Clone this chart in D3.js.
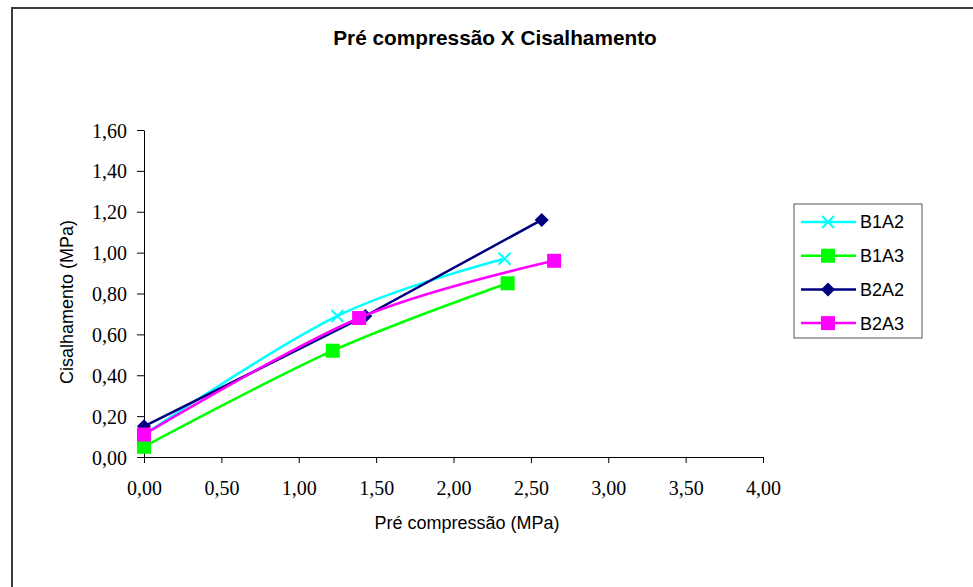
<!DOCTYPE html>
<html>
<head>
<meta charset="utf-8">
<script src="https://cdn.jsdelivr.net/npm/d3@7"></script>
<style>
  body { margin: 0; background: #fff; }
  svg { display: block; }
</style>
</head>
<body>
<svg></svg>
<script>
// dados
const seriesNames = ["B1A2", "B1A3", "B2A2", "B2A3"];
const b1a2X = [0.00, 1.25, 2.33];
const b1a2Y = [0.11, 0.69, 0.97];
const b1a3X = [0.00, 1.22, 2.35];
const b1a3Y = [0.05, 0.52, 0.85];
const b2a2X = [0.00, 1.43, 2.57];
const b2a2Y = [0.15, 0.69, 1.16];
const b2a3X = [0.00, 1.39, 2.65];
const b2a3Y = [0.11, 0.68, 0.96];
const xTicks = [0, 0.5, 1, 1.5, 2, 2.5, 3, 3.5, 4];
const yTicks = [0, 0.2, 0.4, 0.6, 0.8, 1.0, 1.2, 1.4, 1.6];

const width = 973, height = 587;
const svg = d3.select("svg").attr("width", width).attr("height", height);

// moldura externa (sai da área visível à direita e embaixo)
svg.append("rect")
    .attr("x", 12).attr("y", 8)
    .attr("width", 1000).attr("height", 700)
    .attr("fill", "#fff")
    .attr("stroke", "#3c3c3c").attr("stroke-width", 2);

const plot = {left: 144, right: 763, top: 130, bottom: 457};
const x = d3.scaleLinear().domain([0, 4]).range([plot.left, plot.right]);
const y = d3.scaleLinear().domain([0, 1.6]).range([plot.bottom, plot.top]);
const fmt = v => d3.format(".2f")(v).replace(".", ",");

// eixos
const xAxis = svg.append("g")
    .attr("transform", `translate(0,${plot.bottom})`)
    .call(d3.axisBottom(x).tickValues(xTicks).tickFormat(fmt).tickSize(6).tickSizeOuter(0));
const yAxis = svg.append("g")
    .attr("transform", `translate(${plot.left},0)`)
    .call(d3.axisLeft(y).tickValues(yTicks).tickFormat(fmt).tickSize(7).tickSizeOuter(0));

[xAxis, yAxis].forEach(a => {
    a.select(".domain").attr("stroke", "#000").attr("stroke-width", 1);
    a.selectAll(".tick line").attr("stroke", "#000");
    a.selectAll(".tick text")
        .attr("font-family", "Liberation Serif, Times New Roman, serif")
        .attr("font-size", 20).attr("fill", "#000");
});
xAxis.selectAll(".tick text").attr("y", 38).attr("dy", 0);
yAxis.selectAll(".tick text").attr("x", -17).attr("dy", "0.35em");

// títulos
svg.append("text")
    .attr("x", 495).attr("y", 45)
    .attr("text-anchor", "middle")
    .attr("font-family", "Liberation Sans, Arial, sans-serif")
    .attr("font-weight", "bold").attr("font-size", 20.8)
    .text("Pré compressão X Cisalhamento");

svg.append("text")
    .attr("x", 467).attr("y", 529)
    .attr("text-anchor", "middle")
    .attr("font-family", "Liberation Sans, Arial, sans-serif")
    .attr("font-size", 18)
    .text("Pré compressão (MPa)");

svg.append("text")
    .attr("transform", "translate(73,302) rotate(-90)")
    .attr("text-anchor", "middle")
    .attr("font-family", "Liberation Sans, Arial, sans-serif")
    .attr("font-size", 18)
    .text("Cisalhamento (MPa)");

// séries
const series = [
    {name: seriesNames[0], xs: b1a2X, ys: b1a2Y, color: "#00ffff", marker: "x", smooth: true},
    {name: seriesNames[1], xs: b1a3X, ys: b1a3Y, color: "#00ff00", marker: "square", smooth: true},
    {name: seriesNames[2], xs: b2a2X, ys: b2a2Y, color: "#000080", marker: "diamond", smooth: false},
    {name: seriesNames[3], xs: b2a3X, ys: b2a3Y, color: "#ff00ff", marker: "square", smooth: true}
];

function drawMarker(g, type, cx, cy, color) {
    if (type === "square") {
        g.append("rect")
            .attr("x", cx - 7).attr("y", cy - 7)
            .attr("width", 14).attr("height", 14)
            .attr("fill", color);
    } else if (type === "diamond") {
        g.append("path")
            .attr("d", `M${cx},${cy - 7}L${cx + 7},${cy}L${cx},${cy + 7}L${cx - 7},${cy}Z`)
            .attr("fill", color);
    } else {
        g.append("path")
            .attr("d", `M${cx - 6},${cy - 6}L${cx + 6},${cy + 6}M${cx - 6},${cy + 6}L${cx + 6},${cy - 6}`)
            .attr("stroke", color).attr("stroke-width", 2).attr("fill", "none");
    }
}

series.forEach(s => {
    const pts = s.xs.map((v, i) => [v, s.ys[i]]);
    const line = d3.line()
        .x(d => x(d[0])).y(d => y(d[1]))
        .curve(s.smooth ? d3.curveCatmullRom.alpha(0) : d3.curveLinear);
    svg.append("path")
        .attr("d", line(pts))
        .attr("fill", "none")
        .attr("stroke", s.color)
        .attr("stroke-width", 2.5);
    const g = svg.append("g");
    pts.forEach(p => drawMarker(g, s.marker, x(p[0]), y(p[1]), s.color));
});

// legenda
const legend = svg.append("g");
legend.append("rect")
    .attr("x", 794).attr("y", 204)
    .attr("width", 128).attr("height", 134)
    .attr("fill", "#fff").attr("stroke", "#555").attr("stroke-width", 1);

series.forEach((s, i) => {
    const ly = 222 + i * 33.7;
    legend.append("line")
        .attr("x1", 801).attr("x2", 856)
        .attr("y1", ly).attr("y2", ly)
        .attr("stroke", s.color).attr("stroke-width", 2.5);
    drawMarker(legend, s.marker, 828, ly, s.color);
    legend.append("text")
        .attr("x", 860).attr("y", ly).attr("dy", "0.36em")
        .attr("font-family", "Liberation Sans, Arial, sans-serif")
        .attr("font-size", 18)
        .text(s.name);
});
</script>
</body>
</html>
